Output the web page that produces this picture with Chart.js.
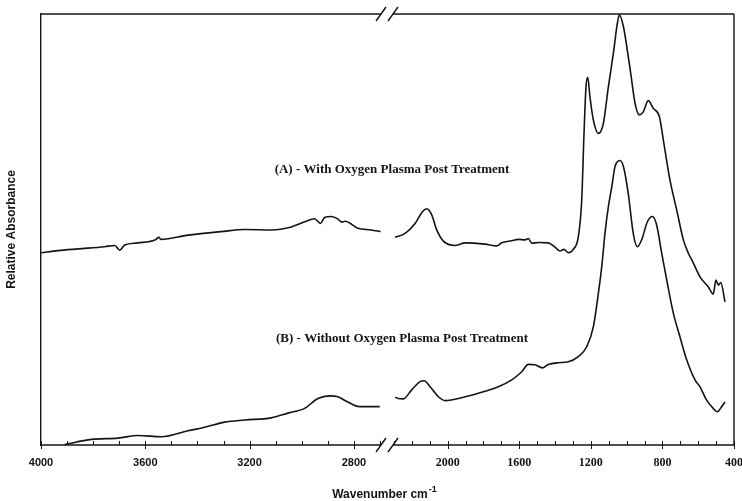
<!DOCTYPE html>
<html>
<head>
<meta charset="utf-8">
<title>FTIR spectra</title>
<script src="https://cdn.jsdelivr.net/npm/chart.js@4.4.1/dist/chart.umd.min.js"></script>
<style>
  html, body { margin: 0; padding: 0; background: #fff; }
  canvas { display: block; }
</style>
</head>
<body>
<canvas id="spectra" width="742" height="501"></canvas>
<script>
// the wavenumber axis is broken: 4000-2673 on the left, 2339-400 on the right
var LEFT_RANGE = [2673, 4000];
var RIGHT_RANGE = [400, 2339];
var LEFT_LABELS = [4000, 3600, 3200, 2800];
var RIGHT_LABELS = [2000, 1600, 1200, 800, 400];

// (A) with oxygen plasma post treatment
var wnA1 = [3999, 3935, 3858, 3756, 3717, 3698, 3679, 3628, 3559, 3549, 3540, 3436, 3310, 3219,
  3117, 3040, 2989, 2951, 2928, 2912, 2887, 2861, 2846, 2834, 2785, 2734, 2698];
var absA1 = [0.446, 0.451, 0.455, 0.460, 0.463, 0.452, 0.464, 0.469, 0.477, 0.482, 0.477, 0.487, 0.495, 0.500,
  0.499, 0.506, 0.518, 0.525, 0.514, 0.528, 0.530, 0.524, 0.517, 0.519, 0.503, 0.499, 0.495];
var wnA2 = [2294, 2238, 2182, 2141, 2117, 2089, 2061, 2024, 1959, 1903, 1791, 1726, 1698, 1642, 1605,
  1568, 1549, 1530, 1493, 1438, 1400, 1372, 1350, 1326, 1298, 1270, 1251, 1238, 1227, 1217, 1205,
  1186, 1158, 1130, 1102, 1074, 1052, 1041, 1018, 999, 977, 953, 929, 907, 879, 851, 817, 795, 758,
  720, 683, 655, 627, 590, 544, 516, 501, 488, 474, 450];
var absA2 = [0.482, 0.491, 0.514, 0.541, 0.548, 0.534, 0.499, 0.473, 0.463, 0.469, 0.466, 0.462, 0.469, 0.474, 0.477,
  0.476, 0.479, 0.468, 0.470, 0.469, 0.459, 0.450, 0.454, 0.446, 0.454, 0.483, 0.568, 0.724, 0.831, 0.853, 0.808,
  0.754, 0.723, 0.746, 0.831, 0.909, 0.978, 0.998, 0.971, 0.924, 0.862, 0.793, 0.766, 0.773, 0.799, 0.781, 0.762, 0.708, 0.615,
  0.545, 0.476, 0.445, 0.422, 0.390, 0.367, 0.350, 0.383, 0.371, 0.377, 0.332];

// (B) without oxygen plasma post treatment
var wnB1 = [3909, 3807, 3705, 3628, 3539, 3436, 3372, 3296, 3219, 3117, 3053, 2989, 2938, 2893, 2861,
  2836, 2778, 2701];
var absB1 = [0.001, 0.013, 0.016, 0.022, 0.019, 0.033, 0.041, 0.053, 0.058, 0.063, 0.074, 0.085, 0.108, 0.114, 0.112,
  0.104, 0.089, 0.089];
var wnB2 = [2294, 2276, 2248, 2201, 2154, 2132, 2098, 2052, 2014, 1940, 1829, 1717, 1642, 1586, 1549,
  1512, 1471, 1438, 1382, 1326, 1270, 1223, 1186, 1158, 1139, 1121, 1102, 1083, 1065, 1052, 1037,
  1018, 991, 963, 940, 916, 884, 856, 832, 804, 776, 739, 702, 664, 618, 590, 553, 516, 493, 469, 450];
var absB2 = [0.111, 0.108, 0.107, 0.128, 0.147, 0.149, 0.135, 0.112, 0.103, 0.108, 0.120, 0.135, 0.151, 0.170, 0.187,
  0.186, 0.179, 0.187, 0.191, 0.193, 0.205, 0.228, 0.274, 0.352, 0.414, 0.491, 0.553, 0.599, 0.646, 0.657, 0.660,
  0.646, 0.584, 0.491, 0.460, 0.476, 0.518, 0.530, 0.510, 0.445, 0.383, 0.306, 0.251, 0.197, 0.151, 0.135, 0.104, 0.085, 0.077, 0.089, 0.100];

var INK = '#141414';

function pairs(wn, abs) {
  return wn.map(function (w, i) { return { x: w, y: abs[i] }; });
}

function trace(wn, abs, axis) {
  return {
    data: pairs(wn, abs),
    xAxisID: axis,
    borderColor: INK,
    borderWidth: 1.6,
    pointRadius: 0,
    cubicInterpolationMode: 'monotone'
  };
}

// minor ticks every 100 cm-1, labels only on the listed values
function everyHundred(scale) {
  var ticks = [];
  for (var v = Math.ceil(scale.min / 100) * 100; v <= scale.max; v += 100) ticks.push({ value: v });
  scale.ticks = ticks;
}

function wnAxis(range, labels, weight, font) {
  return {
    type: 'linear',
    position: 'bottom',
    stack: 'wn',
    stackWeight: weight,
    reverse: true,
    min: range[0],
    max: range[1],
    grid: { display: false, drawTicks: false },
    border: { display: false },
    afterBuildTicks: everyHundred,
    afterFit: function (s) { s.height = 56; s.paddingLeft = 0; s.paddingRight = 0; },
    ticks: {
      autoSkip: false,
      maxRotation: 0,
      padding: 11,
      color: INK,
      font: font,
      callback: function (v) { return labels.indexOf(v) >= 0 ? String(v) : ''; }
    }
  };
}

// frame, broken axis marks, tick marks and the curve captions
var decorations = {
  id: 'decorations',
  afterDatasetsDraw: function (chart) {
    var ctx = chart.ctx, a = chart.chartArea;
    var xl = chart.scales.xl, xr = chart.scales.xr, y = chart.scales.y;
    var gapL = xl.right - 6, gapR = xr.left + 6;
    ctx.save();
    ctx.strokeStyle = INK;
    ctx.lineWidth = 1.4;
    function seg(x1, y1, x2, y2) { ctx.beginPath(); ctx.moveTo(x1, y1); ctx.lineTo(x2, y2); ctx.stroke(); }
    [a.top, a.bottom].forEach(function (yy) {
      seg(a.left, yy, gapL, yy);
      seg(gapR, yy, a.right, yy);
      seg(gapL - 5, yy + 7, gapL + 5, yy - 7);
      seg(gapR - 5, yy + 7, gapR + 5, yy - 7);
    });
    seg(a.right, a.top, a.right, a.bottom);

    ctx.lineWidth = 1;
    [[xl, LEFT_LABELS], [xr, RIGHT_LABELS]].forEach(function (p) {
      p[0].ticks.forEach(function (t) {
        var px = Math.round(p[0].getPixelForValue(t.value)) + 0.5;
        var major = p[1].indexOf(t.value) >= 0;
        seg(px, a.bottom - 4, px, a.bottom + (major ? 4 : 0));
      });
    });

    ctx.fillStyle = INK;
    ctx.textAlign = 'center';
    ctx.textBaseline = 'alphabetic';
    ctx.font = 'bold 13px "Liberation Serif"';
    ctx.fillText('(A) - With Oxygen Plasma Post Treatment', a.left + 351, y.getPixelForValue(0.632));
    ctx.fillText('(B) - Without Oxygen Plasma Post Treatment', a.left + 361, y.getPixelForValue(0.240));

    // axis title with superscript
    var main = 'Wavenumber cm', sup = '-1';
    ctx.font = 'bold 12px "Liberation Sans"';
    var w1 = ctx.measureText(main).width;
    ctx.font = 'bold 9px "Liberation Sans"';
    var w2 = ctx.measureText(sup).width;
    var x0 = 384 - (w1 + w2) / 2;
    ctx.textAlign = 'left';
    ctx.font = 'bold 12px "Liberation Sans"';
    ctx.fillText(main, x0, 498);
    ctx.font = 'bold 9px "Liberation Sans"';
    ctx.fillText(sup, x0 + w1 + 1, 492);
    ctx.restore();
  }
};

new Chart(document.getElementById('spectra'), {
  type: 'line',
  data: {
    datasets: [
      trace(wnA1, absA1, 'xl'),
      trace(wnA2, absA2, 'xr'),
      trace(wnB1, absB1, 'xl'),
      trace(wnB2, absB2, 'xr')
    ]
  },
  options: {
    responsive: false,
    animation: false,
    devicePixelRatio: 1,
    layout: { padding: { top: 14, right: 8, left: 0, bottom: 0 } },
    plugins: { legend: { display: false }, tooltip: { enabled: false } },
    scales: {
      xl: wnAxis(LEFT_RANGE, LEFT_LABELS, 346, { family: 'Liberation Sans', size: 11, weight: 'bold' }),
      xr: wnAxis(RIGHT_RANGE, RIGHT_LABELS, 347, { family: 'Liberation Serif', size: 12, weight: 'bold' }),
      y: {
        min: 0,
        max: 1,
        ticks: { display: false },
        grid: { display: false, drawTicks: false },
        border: { display: true, color: INK, width: 1.4 },
        afterFit: function (s) { s.width = 41; },
        title: {
          display: true,
          text: 'Relative Absorbance',
          color: INK,
          font: { family: 'Liberation Sans', size: 12, weight: 'bold' },
          padding: { top: 4, bottom: 0 }
        }
      }
    }
  },
  plugins: [decorations]
});
</script>
</body>
</html>
